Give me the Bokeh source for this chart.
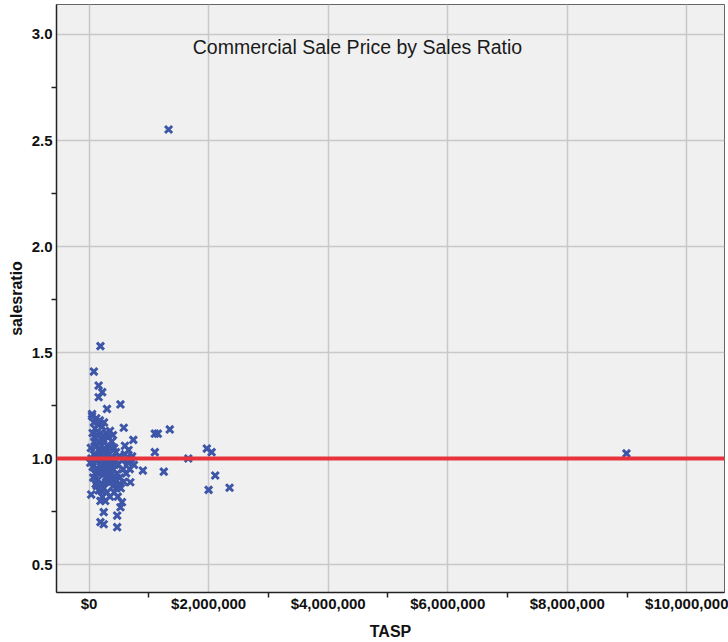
from bokeh.plotting import figure
from bokeh.models import FixedTicker, NumeralTickFormatter, Span, Label, Range1d
from bokeh.embed import file_html
from bokeh.resources import INLINE

TITLE = "Commercial Sale Price by Sales Ratio"
X_LABEL = "TASP"
Y_LABEL = "salesratio"

x_ticks = [0, 2000000, 4000000, 6000000, 8000000, 10000000]
x_minor = [1000000, 3000000, 5000000, 7000000, 9000000]
y_ticks = [0.5, 1.0, 1.5, 2.0, 2.5, 3.0]
y_minor = [0.75, 1.25, 1.75, 2.25, 2.75]
reference_ratio = 1.0

# outlying points (TASP in dollars, sales ratio)
tasp_outer = [1330000, 8990000, 2350000, 2000000, 2110000, 1970000, 2050000,
              1660000, 1250000, 1350000, 1100000, 1150000, 1100000, 900000,
              740000, 690000, 580000, 525000, 190000, 80000, 160000, 220000,
              160000, 300000, 50000, 35000, 190000, 550000, 525000, 245000,
              470000, 190000, 245000, 470000]
ratio_outer = [2.552, 1.024, 0.862, 0.852, 0.920, 1.047, 1.030,
               1.000, 0.938, 1.137, 1.117, 1.117, 1.030, 0.943,
               1.088, 0.888, 1.145, 1.255, 1.530, 1.410, 1.344, 1.313,
               1.289, 1.234, 1.210, 0.830, 0.800, 0.794, 0.770, 0.747,
               0.731, 0.700, 0.690, 0.676]

# dense cluster of lower-priced sales
tasp_cluster = [50000, 80000, 120000, 150000, 180000, 220000, 250000, 280000,
                320000, 350000, 100000, 60000, 140000, 200000, 240000, 300000,
                380000, 420000, 450000, 500000, 550000, 600000, 650000, 700000,
                480000, 400000, 360000, 440000, 500000, 460000, 400000, 330000,
                280000, 220000, 180000, 120000, 80000, 40000, 60000, 100000,
                150000, 200000, 250000, 300000, 350000, 160000, 210000, 260000,
                310000, 360000, 270000, 230000, 190000, 130000, 90000, 170000,
                290000, 340000, 390000, 430000, 470000, 520000, 570000, 620000,
                380000, 320000, 260000, 140000, 110000, 160000, 220000, 270000,
                420000, 480000, 530000, 580000, 660000, 720000, 750000, 680000,
                30000, 20000, 70000, 110000, 130000, 170000, 210000, 240000,
                330000, 370000, 410000, 450000, 90000, 230000, 290000, 350000,
                600000, 640000, 150000, 260000, 310000, 200000, 120000, 400000]
ratio_cluster = [1.20, 1.17, 1.19, 1.16, 1.18, 1.15, 1.17, 1.12,
                 1.10, 1.13, 1.14, 1.12, 1.11, 1.12, 1.09, 1.06,
                 1.08, 1.05, 1.03, 1.01, 0.99, 1.02, 0.98, 1.00,
                 0.97, 0.95, 0.92, 0.90, 0.88, 0.86, 0.87, 0.89,
                 0.91, 0.94, 0.97, 0.99, 1.02, 1.00, 0.96, 0.93,
                 0.90, 0.88, 0.86, 0.84, 0.82, 1.04, 1.06, 1.03,
                 1.00, 0.98, 0.97, 1.00, 1.02, 1.06, 1.08, 1.08,
                 1.04, 1.02, 1.00, 0.97, 0.93, 0.91, 0.95, 0.93,
                 0.90, 0.94, 0.93, 0.95, 0.88, 0.85, 0.82, 0.80,
                 0.84, 0.82, 0.86, 0.89, 1.04, 1.01, 0.97, 0.95,
                 1.05, 0.98, 0.91, 1.01, 0.87, 0.93, 0.96, 1.08,
                 0.96, 1.05, 0.91, 0.99, 1.10, 1.03, 0.89, 0.94,
                 1.06, 0.99, 1.00, 0.99, 0.92, 0.85, 0.95, 1.11]

FONT = "Liberation Sans"

p = figure(width=728, height=642, output_backend="svg", toolbar_location=None,
           x_range=Range1d(-545000, 10630000), y_range=Range1d(0.368, 3.1415),
           min_border_left=56, min_border_right=4, min_border_top=4,
           min_border_bottom=50)

p.background_fill_color = "#F0F0F0"
p.border_fill_color = "white"
p.outline_line_color = "#666666"
p.outline_line_width = 1

p.xaxis.ticker = FixedTicker(ticks=x_ticks, minor_ticks=x_minor)
p.yaxis.ticker = FixedTicker(ticks=y_ticks, minor_ticks=y_minor)
p.xaxis.formatter = NumeralTickFormatter(format="$0,0")
p.yaxis.formatter = NumeralTickFormatter(format="0.0")

for ax in (p.xaxis, p.yaxis):
    ax.major_tick_out = 0
    ax.major_tick_in = 0
    ax.minor_tick_out = 5
    ax.minor_tick_in = 0
    ax.minor_tick_line_color = "#222222"
    ax.minor_tick_line_width = 1.5
    ax.axis_line_color = "#222222"
    ax.axis_line_width = 1.5
    ax.major_label_text_font = FONT
    ax.major_label_text_font_style = "bold"
    ax.major_label_text_font_size = "15px"
    ax.major_label_text_color = "#111111"
    ax.axis_label_text_font = FONT
    ax.axis_label_text_font_style = "bold"
    ax.axis_label_text_font_size = "16px"
    ax.axis_label_text_color = "#111111"

p.xaxis.major_label_standoff = -3
p.yaxis.major_label_standoff = -1
p.xaxis.axis_label = X_LABEL
p.yaxis.axis_label = Y_LABEL
p.xaxis.axis_label_standoff = 8
p.yaxis.axis_label_standoff = 4

p.xgrid.ticker = FixedTicker(ticks=x_ticks)
p.ygrid.ticker = FixedTicker(ticks=y_ticks)
for g in (p.xgrid, p.ygrid):
    g.grid_line_color = "#C8C8C8"
    g.grid_line_width = 1.5

tasp = tasp_outer + tasp_cluster
ratio = ratio_outer + ratio_cluster
p.scatter(tasp, ratio, marker="x", size=10, line_width=3, line_color="#3D56A8")

p.add_layout(Span(location=reference_ratio, dimension="width",
                  line_color="#E8323C", line_width=4))

p.add_layout(Label(x=4490000, y=2.94, text=TITLE, text_align="center",
                   text_baseline="middle", text_font=FONT,
                   text_font_size="19.5px", text_color="#1A1A1A"))

open("out.html", "w").write(file_html(p, INLINE))
